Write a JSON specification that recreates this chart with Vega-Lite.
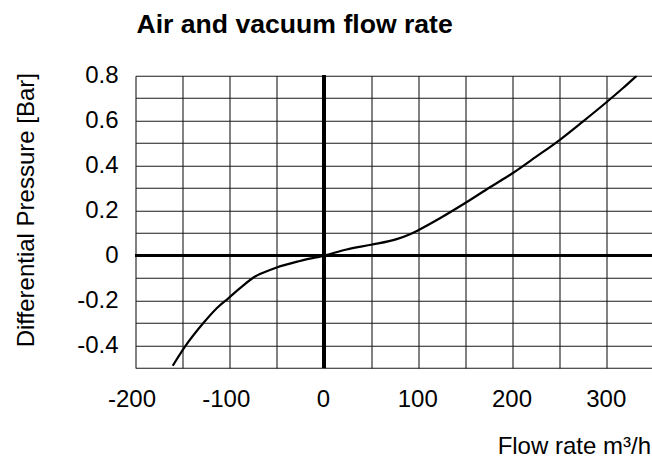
{
  "$schema": "https://vega.github.io/schema/vega-lite/v6.json",
  "width": 516.5,
  "height": 292.3,
  "autosize": {"type": "none"},
  "padding": {"left": 135.5, "top": 75.7, "right": 0, "bottom": 89},
  "background": "white",
  "config": {
    "view": {"stroke": null},
    "font": "Liberation Sans",
    "axis": {
      "grid": true,
      "gridColor": "#1a1a1a",
      "gridWidth": 1.1,
      "gridOpacity": 1,
      "domain": false,
      "ticks": false,
      "tickSize": 0,
      "labelOverlap": false,
      "labelFont": "Liberation Sans",
      "labelFontSize": 24,
      "labelColor": "#000",
      "titleFont": "Liberation Sans",
      "titleFontSize": 24,
      "titleFontWeight": "normal",
      "titleColor": "#000"
    }
  },
  "title": {
    "text": "Air and vacuum flow rate",
    "anchor": "start",
    "frame": "group",
    "font": "Liberation Sans",
    "fontSize": 26.6,
    "fontWeight": "bold",
    "color": "#000",
    "dx": 1,
    "offset": 25.5
  },
  "data": {
    "values": [
      {"flow": -160.5, "dp": -0.49},
      {"flow": -147.5, "dp": -0.405},
      {"flow": -128, "dp": -0.3},
      {"flow": -113.8, "dp": -0.234},
      {"flow": -101.5, "dp": -0.19},
      {"flow": -89.1, "dp": -0.145},
      {"flow": -73.2, "dp": -0.093},
      {"flow": -57.3, "dp": -0.064},
      {"flow": -50.2, "dp": -0.053},
      {"flow": -25.5, "dp": -0.024},
      {"flow": 0, "dp": 0},
      {"flow": 24, "dp": 0.027},
      {"flow": 49.9, "dp": 0.048},
      {"flow": 77.1, "dp": 0.073},
      {"flow": 91.2, "dp": 0.095},
      {"flow": 100.5, "dp": 0.114},
      {"flow": 123, "dp": 0.166},
      {"flow": 150.7, "dp": 0.236},
      {"flow": 176.1, "dp": 0.304},
      {"flow": 200, "dp": 0.366},
      {"flow": 225.2, "dp": 0.44},
      {"flow": 249.9, "dp": 0.514},
      {"flow": 274.6, "dp": 0.596},
      {"flow": 299.7, "dp": 0.682},
      {"flow": 317, "dp": 0.744},
      {"flow": 331.8, "dp": 0.8}
    ]
  },
  "layer": [
    {
      "mark": {"type": "line", "color": "#000", "strokeWidth": 2.2, "interpolate": "monotone", "clip": true},
      "encoding": {
        "x": {
          "field": "flow",
          "type": "quantitative",
          "scale": {"domain": [-200, 348], "nice": false, "zero": false},
          "axis": {
            "values": [-200, -150, -100, -50, 0, 50, 100, 150, 200, 250, 300],
            "tickCount": 40,
            "labelExpr": "datum.value % 100 == 0 ? toString(datum.value) : ''",
            "labelPadding": 19,
            "labelAlign": "center",
            "labelOffset": {"condition": {"test": "datum.value < 0", "value": -4}, "value": -1},
            "title": "Flow rate m³/h",
            "titleAnchor": "end",
            "titleAlign": "right",
            "titleBaseline": "alphabetic",
            "titleX": 515,
            "titleY": 85.3
          }
        },
        "y": {
          "field": "dp",
          "type": "quantitative",
          "scale": {"domain": [-0.5, 0.8], "nice": false, "zero": false},
          "axis": {
            "values": [-0.5, -0.4, -0.3, -0.2, -0.1, 0, 0.1, 0.2, 0.3, 0.4, 0.5, 0.6, 0.7, 0.8],
            "tickCount": 40,
            "labelExpr": "abs(round(datum.value * 10)) % 2 == 0 && datum.value > -0.45 ? toString(datum.value) : ''",
            "labelPadding": 17.5,
            "title": "Differential Pressure [Bar]",
            "titleAngle": -90,
            "titleAlign": "center",
            "titleBaseline": "alphabetic",
            "titleX": -102,
            "titleY": 134
          }
        }
      }
    },
    {
      "mark": {"type": "rule", "color": "#000", "strokeWidth": 2.6},
      "encoding": {"x": {"datum": 0}}
    },
    {
      "mark": {"type": "rule", "color": "#000", "strokeWidth": 2.6},
      "encoding": {"y": {"datum": 0}}
    }
  ]
}
